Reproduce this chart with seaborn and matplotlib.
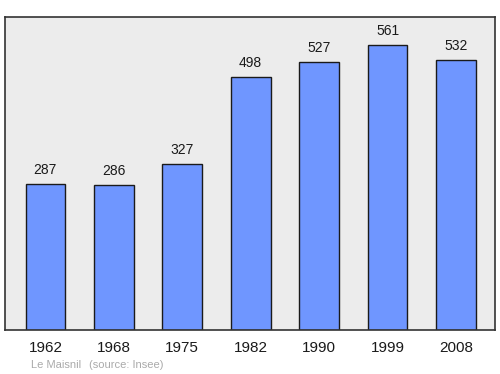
import matplotlib
matplotlib.use("Agg")
import matplotlib.pyplot as plt
import seaborn as sns
import pandas as pd

years = ["1962", "1968", "1975", "1982", "1990", "1999", "2008"]
population = [287, 286, 327, 498, 527, 561, 532]
commune = "Le Maisnil"
source = "(source: Insee)"

sns.set_style("white")
plt.rcParams['font.family'] = ['Liberation Sans', 'DejaVu Sans']

df = pd.DataFrame({"year": years, "pop": population})

fig = plt.figure(figsize=(5, 3.74), dpi=100)
ax = fig.add_axes([5/500, 1 - 330/374, 490/500, 313/374])
ax.set_facecolor("#ececec")
sns.barplot(data=df, x="year", y="pop", color="#6f96ff", saturation=1,
            width=0.58, edgecolor="#1a1a1a", linewidth=1, ax=ax)
ax.set_xlim(-0.59, 6.57)
ax.set_ylim(0, 616)
ax.set_xlabel("")
ax.set_ylabel("")
ax.set_yticks([])
ax.tick_params(axis="x", length=0, pad=8, labelsize=11, labelcolor="#1a1a1a")
for s in ax.spines.values():
    s.set_visible(True)
    s.set_color("#333333")
    s.set_linewidth(1.2)

for i, v in enumerate(population):
    ax.annotate(str(v), (i, v), xytext=(0, 10), textcoords="offset points",
                ha="center", va="center", fontsize=10, color="#1a1a1a")

fig.text(31/500, 1 - 365/374, commune, fontsize=8, color="#aaaaaa", va="center")
fig.text(89/500, 1 - 365/374, source, fontsize=8, color="#aaaaaa", va="center")

fig.savefig("out.png", dpi=100)
